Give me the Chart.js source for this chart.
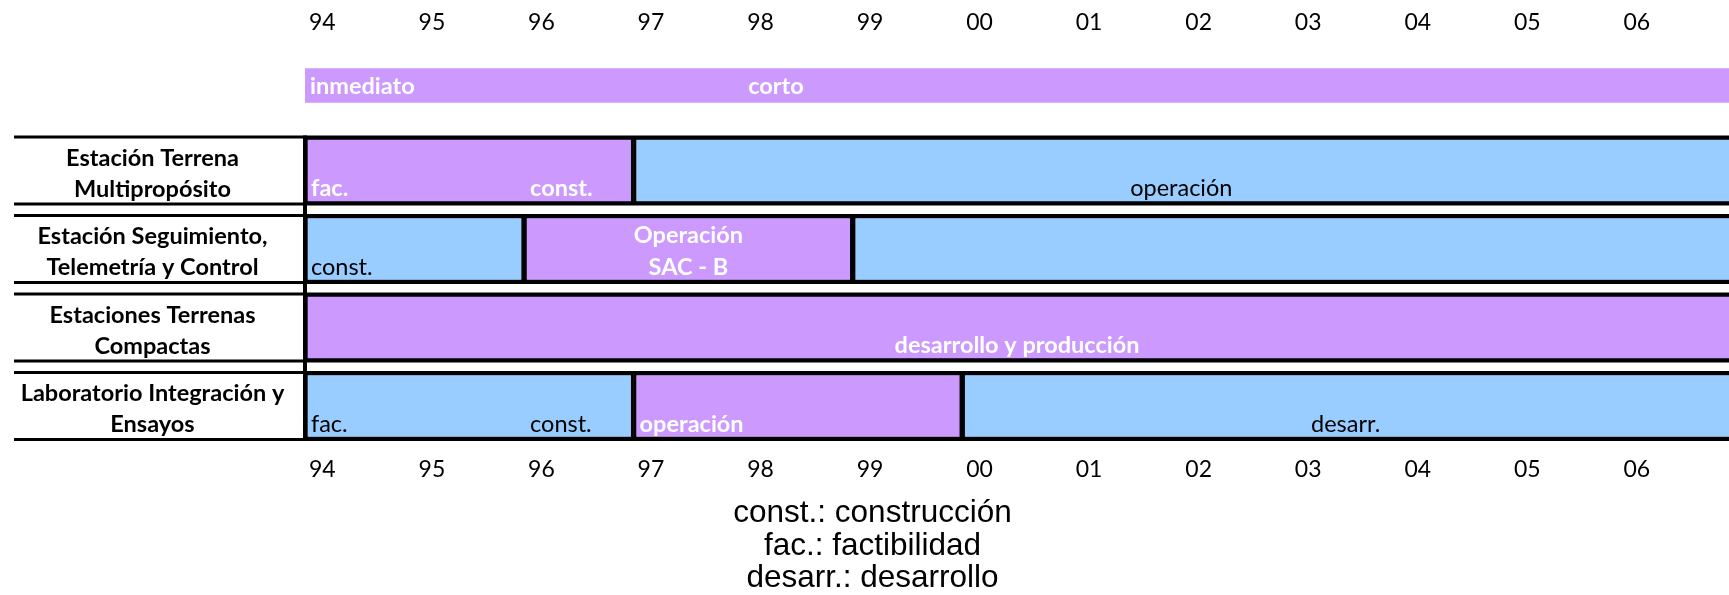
<!DOCTYPE html>
<html>
<head>
<meta charset="utf-8">
<script src="https://cdn.jsdelivr.net/npm/chart.js@4.4.0/dist/chart.umd.min.js"></script>
<style>
  html, body { margin: 0; padding: 0; background: #fff; }
  #wrap { width: 1729px; height: 595px; }
</style>
</head>
<body>
<div id="wrap"><canvas id="c" width="1729" height="595"></canvas></div>
<script>
// Años del cronograma (rótulos de columna)
const anios = ['94', '95', '96', '97', '98', '99', '00', '01', '02', '03', '04', '05', '06'];
const primerAnio = 1994;
const ultimoAnio = 2007;

// Filas de la tabla; la primera queda para la franja de plazos
const filas = [
  '',
  ['Estación Terrena', 'Multipropósito'],
  ['Estación Seguimiento,', 'Telemetría y Control'],
  ['Estaciones Terrenas', 'Compactas'],
  ['Laboratorio Integración y', 'Ensayos']
];

// Plazos (franja superior)
const plazos = ['inmediato', 'corto'];
const plazo1 = [[1994, 1998]];
const plazo2 = [[1998, 2007]];

// Tramos de cada fila (inicio, fin)
const tramo1 = [null, [1994, 1997], [1994, 1996], [1994, 2007], [1994, 1997]];
const tramo2 = [null, [1997, 2007], [1996, 1999], null, [1997, 2000]];
const tramo3 = [null, null, [1999, 2007], null, [2000, 2007]];

// Notas escritas en la columna de un año: [fila, año, texto]
const notasAnio = [
  [1, 1994, 'fac.'], [1, 1996, 'const.'],
  [2, 1994, 'const.'],
  [4, 1994, 'fac.'], [4, 1996, 'const.'], [4, 1997, 'operación']
];
// Notas centradas en un tramo: [fila, tramo, líneas]
const notasTramo = [
  [1, 2, ['operación']],
  [2, 2, ['Operación', 'SAC - B']],
  [3, 1, ['desarrollo y producción']],
  [4, 3, ['desarr.']]
];

const leyenda = ['const.: construcción', 'fac.: factibilidad', 'desarr.: desarrollo'];

// Estilo
const MORADO = '#CC99FF';
const CELESTE = '#99CCFF';
const FUENTE = 'Lato';
const TAM = 23.5;
const fuenteFila = { family: FUENTE, size: TAM, weight: 'bold', lineHeight: '31px' };

const coloresTramo1 = [null, MORADO, CELESTE, MORADO, CELESTE];
const coloresTramo2 = [null, CELESTE, MORADO, null, MORADO];
const coloresTramo3 = [null, null, CELESTE, null, CELESTE];

const ANCHO_EJE_Y = 289;
const PAD_IZQ = 16;

// Centrar los rótulos de fila en su columna
function paddingRotulos() {
  const cv = document.createElement('canvas').getContext('2d');
  cv.font = `bold ${TAM}px ${FUENTE}`;
  let w = 0;
  filas.forEach(f => [].concat(f).forEach(t => { w = Math.max(w, cv.measureText(t).width); }));
  return ANCHO_EJE_Y / 2 - w / 2;
}

const tramoBase = {
  grouped: false,
  barThickness: 67,
  borderColor: '#000',
  // sin borde derecho donde el tramo sigue más allá del último año
  borderWidth: (c) => {
    const v = c.raw;
    const der = v && v[1] >= ultimoAnio ? 0 : 3;
    return { top: 3, bottom: 3, left: 3, right: der };
  },
  borderSkipped: false
};

const plazoBase = {
  yAxisID: 'yPlazo',
  grouped: false,
  barThickness: 34,
  backgroundColor: MORADO,
  borderWidth: 0
};

const datasets = [
  Object.assign({ label: plazos[0], data: plazo1 }, plazoBase),
  Object.assign({ label: plazos[1], data: plazo2 }, plazoBase),
  Object.assign({ label: 't1', data: tramo1, backgroundColor: coloresTramo1 }, tramoBase),
  Object.assign({ label: 't2', data: tramo2, backgroundColor: coloresTramo2 }, tramoBase),
  Object.assign({ label: 't3', data: tramo3, backgroundColor: coloresTramo3 }, tramoBase)
];

function estiloTexto(ctx, fondo) {
  if (fondo === MORADO) {
    ctx.font = `bold ${TAM}px ${FUENTE}`;
    ctx.fillStyle = '#FFFFFF';
  } else {
    ctx.font = `${TAM}px ${FUENTE}`;
    ctx.fillStyle = '#000000';
  }
}

// Líneas de la tabla y textos dentro de las barras
const tablaPlugin = {
  id: 'tabla',
  afterDatasetsDraw(chart) {
    const ctx = chart.ctx;
    const area = chart.chartArea;
    const xs = chart.scales.x;
    const ys = chart.scales.y;
    const metaT1 = chart.getDatasetMeta(2);
    ctx.save();

    // bordes horizontales de cada fila
    ctx.strokeStyle = '#000';
    ctx.lineWidth = 3;
    let yIni = null, yFin = null;
    for (let i = 1; i < filas.length; i++) {
      const p = metaT1.data[i].getProps(['y', 'height'], true);
      const top = p.y - p.height / 2, bot = p.y + p.height / 2;
      if (yIni === null) yIni = top;
      yFin = bot;
      [top, bot].forEach(yy => {
        ctx.beginPath();
        ctx.moveTo(ys.left - 2, yy);
        ctx.lineTo(area.right, yy);
        ctx.stroke();
      });
    }
    // separador vertical entre rótulos y cronograma
    ctx.lineWidth = 4;
    ctx.beginPath();
    ctx.moveTo(area.left, yIni - 1.5);
    ctx.lineTo(area.left, yFin + 1.5);
    ctx.stroke();

    ctx.textBaseline = 'alphabetic';

    // plazos
    [0, 1].forEach(d => {
      const p = chart.getDatasetMeta(d).data[0].getProps(['x', 'y', 'base', 'height'], true);
      estiloTexto(ctx, MORADO);
      ctx.textAlign = 'left';
      ctx.fillText(plazos[d], Math.min(p.x, p.base) + 5, p.y + p.height / 2 - 8);
    });

    // notas por año
    notasAnio.forEach(([fila, anio, texto]) => {
      let fondo = null, el = null;
      [2, 3, 4].forEach(d => {
        const v = chart.data.datasets[d].data[fila];
        if (v && anio >= v[0] && anio < v[1]) {
          fondo = chart.data.datasets[d].backgroundColor[fila];
          el = chart.getDatasetMeta(d).data[fila];
        }
      });
      const p = el.getProps(['y', 'height'], true);
      estiloTexto(ctx, fondo);
      ctx.textAlign = 'left';
      ctx.fillText(texto, xs.getPixelForValue(anio) + 6, p.y + p.height / 2 - 8);
    });

    // notas centradas en su tramo
    notasTramo.forEach(([fila, tramo, lineas]) => {
      const d = tramo + 1;
      const p = chart.getDatasetMeta(d).data[fila].getProps(['x', 'y', 'base', 'height'], true);
      estiloTexto(ctx, chart.data.datasets[d].backgroundColor[fila]);
      ctx.textAlign = 'center';
      const cx = (p.x + p.base) / 2;
      const base = p.y + p.height / 2 - 8;
      lineas.forEach((t, k) => {
        ctx.fillText(t, cx, base - (lineas.length - 1 - k) * 32);
      });
    });
    ctx.restore();
  }
};

const ejeX = (pos, pad, alto) => ({
  type: 'linear',
  position: pos,
  min: primerAnio,
  max: ultimoAnio,
  grid: { display: false },
  border: { display: false },
  afterBuildTicks(s) {
    s.ticks = anios.map((_, i) => ({ value: primerAnio + i })).concat([{ value: ultimoAnio }]);
  },
  afterFit(s) {
    s.height = alto;
    s.paddingLeft = 0;
    s.paddingRight = 0;
  },
  ticks: {
    autoSkip: false,
    maxRotation: 0,
    align: 'start',
    labelOffset: 4,
    padding: pad,
    color: '#000',
    font: { family: FUENTE, size: 23 },
    callback: (v, i) => anios[i] ?? ''
  }
});

new Chart(document.getElementById('c'), {
  type: 'bar',
  data: { labels: filas, datasets },
  options: {
    indexAxis: 'y',
    responsive: false,
    animation: false,
    devicePixelRatio: 1,
    layout: { padding: { left: PAD_IZQ, right: 0, top: 0, bottom: 0 } },
    plugins: {
      legend: { display: false },
      tooltip: { enabled: false },
      title: {
        display: true,
        position: 'bottom',
        text: leyenda,
        color: '#000',
        font: { family: 'Liberation Sans', size: 31.5, weight: 'normal', lineHeight: '32.5px' },
        padding: { top: 15, bottom: 0 }
      }
    },
    scales: {
      x: ejeX('bottom', 3, 37.25),
      xTop: ejeX('top', 8, 52.75),
      y: {
        type: 'category',
        offset: true,
        grid: { display: false },
        border: { display: false },
        afterFit(s) {
          s.width = ANCHO_EJE_Y;
          s.paddingTop = 0;
          s.paddingBottom = 0;
        },
        ticks: {
          crossAlign: 'center',
          padding: paddingRotulos(),
          labelOffset: 3,
          color: '#000',
          font: fuenteFila
        }
      },
      // franja de plazos: sexta parte superior del área, sobre la tabla
      yPlazo: {
        type: 'category',
        labels: ['plazos', '', '', '', '', ''],
        offset: true,
        display: false
      }
    }
  },
  plugins: [tablaPlugin]
});
</script>
</body>
</html>
